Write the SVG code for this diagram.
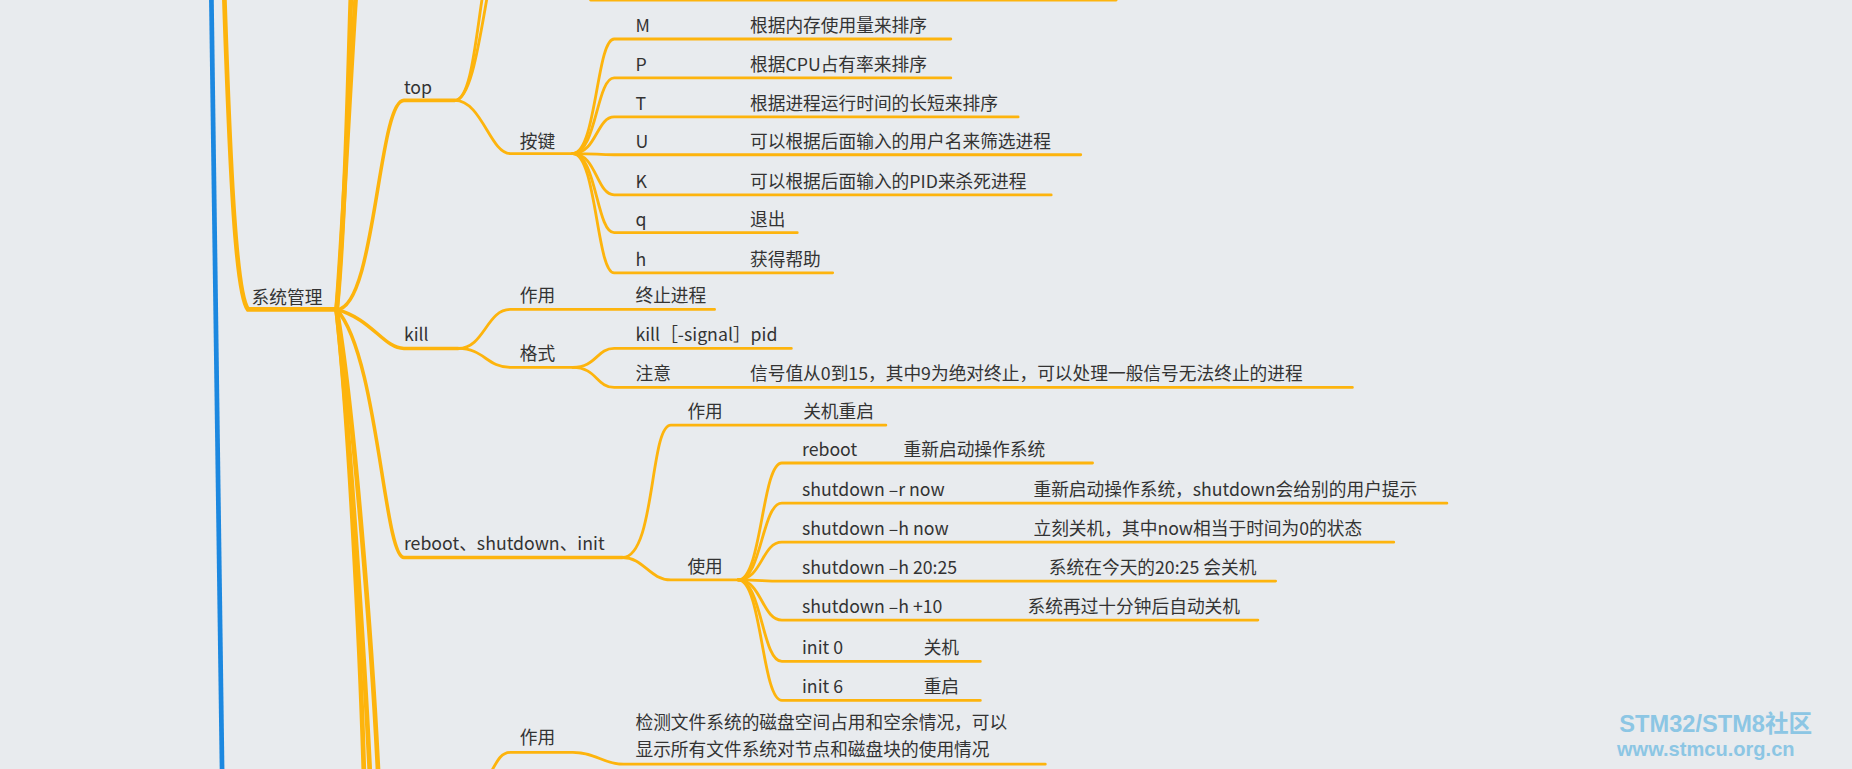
<svg xmlns="http://www.w3.org/2000/svg" width="1852" height="769" viewBox="0 0 1852 769">
<style>
.t{font-family:"Noto Sans CJK SC","Liberation Sans",sans-serif;font-size:15px;fill:#333}
.c{fill:none;stroke:#fdb40d;stroke-linecap:round}
.w1{stroke-width:4}.w2{stroke-width:3}.w3{stroke-width:2.4}
.wm{font-family:"Liberation Sans","Noto Sans CJK SC",sans-serif;font-weight:bold;fill:#8cc6e4}
</style>
<rect width="1852" height="769" fill="#e8ebee"/>
<g transform="scale(1.18112)">
<g id="connectors">
<path d="M179 0 L188 651" fill="none" stroke="#1c88e0" stroke-width="4"/>
<path class="c w1" d="M190 0 C195 150 200 250 210 262 L285 262"/>
<path class="c w1" d="M285 262 C292 200 295 60 297 0"/>
<path class="c w1" d="M285 262 C290 200 297 60 301 0"/>
<path class="c w1" d="M285 262 C295 350 305 550 308 651"/>
<path class="c w1" d="M285 262 C295 350 308 550 313 651"/>
<path class="c w1" d="M285 262 C300 350 315 550 320 651"/>
<path class="c w2" d="M285 262 C318 262 320 85 342 85 L385 85"/>
<path class="c w2" d="M285 262 C315 270 325 295 342 295 L388 295"/>
<path class="c w2" d="M285 262 C320 300 325 472 342 472 L527 472"/>
<path class="c w3" d="M385 85 C398 85 402 40 408 0"/>
<path class="c w3" d="M385 85 C398 85 405 40 412 0"/>
<path class="c w3" d="M500 0 L945 0"/>
<path class="c w3" d="M385 85 C408 85 415 130 432 130 L485 130"/>
<path class="c w3" d="M485 130 C505 130 505 33 520 33 L805 33"/>
<path class="c w3" d="M485 130 C505 130 505 66 520 66 L805 66"/>
<path class="c w3" d="M485 130 C505 130 505 99 520 99 L862 99"/>
<path class="c w3" d="M485 130 C505 130 505 131 520 131 L915 131"/>
<path class="c w3" d="M485 130 C505 130 505 165 520 165 L890 165"/>
<path class="c w3" d="M485 130 C505 130 505 197 520 197 L675 197"/>
<path class="c w3" d="M485 130 C505 130 505 231 520 231 L705 231"/>
<path class="c w3" d="M388 295 C410 295 412 262 432 262 L485 262 L605 262"/>
<path class="c w3" d="M388 295 C410 295 412 311 432 311 L485 311"/>
<path class="c w3" d="M485 311 C505 311 505 295 520 295 L670 295"/>
<path class="c w3" d="M485 311 C505 311 505 328 520 328 L1145 328"/>
<path class="c w3" d="M527 472 C555 472 550 360 568 360 L750 360"/>
<path class="c w3" d="M527 472 C545 472 550 491 568 491 L625 491"/>
<path class="c w3" d="M625 491 C645 491 645 392 662 392 L925 392"/>
<path class="c w3" d="M625 491 C645 491 645 426 662 426 L1225 426"/>
<path class="c w3" d="M625 491 C645 491 645 459 662 459 L1180 459"/>
<path class="c w3" d="M625 491 C645 491 645 492 662 492 L1080 492"/>
<path class="c w3" d="M625 491 C645 491 645 525 662 525 L1065 525"/>
<path class="c w3" d="M625 491 C645 491 645 560 662 560 L830 560"/>
<path class="c w3" d="M625 491 C645 491 645 593 662 593 L830 593"/>
<path class="c w3" d="M415 655 C422 642 425 637 432 637 L485 637 C505 637 510 647 528 647 L885 647"/>
</g>
<g id="n-sys"><text class="t" x="213" y="257">系统管理</text></g>
<g id="n-top"><text class="t" x="342" y="80">top</text></g>
<g id="n-keys"><text class="t" x="440" y="125">按键</text></g>
<g id="n-M"><text class="t" x="538" y="27">M</text><text class="t" x="635" y="27">根据内存使用量来排序</text></g>
<g id="n-P"><text class="t" x="538" y="60">P</text><text class="t" x="635" y="60">根据CPU占有率来排序</text></g>
<g id="n-T"><text class="t" x="538" y="93">T</text><text class="t" x="635" y="93">根据进程运行时间的长短来排序</text></g>
<g id="n-U"><text class="t" x="538" y="125">U</text><text class="t" x="635" y="125">可以根据后面输入的用户名来筛选进程</text></g>
<g id="n-K"><text class="t" x="538" y="159">K</text><text class="t" x="635" y="159">可以根据后面输入的PID来杀死进程</text></g>
<g id="n-q"><text class="t" x="538" y="191">q</text><text class="t" x="635" y="191">退出</text></g>
<g id="n-h"><text class="t" x="538" y="225">h</text><text class="t" x="635" y="225">获得帮助</text></g>
<g id="n-kill"><text class="t" x="342" y="289">kill</text></g>
<g id="n-kill-use"><text class="t" x="440" y="256">作用</text><text class="t" x="538" y="256">终止进程</text></g>
<g id="n-kill-fmt"><text class="t" x="440" y="305">格式</text></g>
<g id="n-kill-syn"><text class="t" x="538" y="289">kill［-signal］pid</text></g>
<g id="n-kill-note"><text class="t" x="538" y="322">注意</text><text class="t" x="635" y="322">信号值从0到15，其中9为绝对终止，可以处理一般信号无法终止的进程</text></g>
<g id="n-reboot"><text class="t" x="342" y="466">reboot、shutdown、init</text></g>
<g id="n-rb-use"><text class="t" x="582" y="354">作用</text><text class="t" x="680" y="354">关机重启</text></g>
<g id="n-rb-usage"><text class="t" x="582" y="485">使用</text></g>
<g id="n-u1"><text class="t" x="679" y="386">reboot</text><text class="t" x="765" y="386">重新启动操作系统</text></g>
<g id="n-u2"><text class="t" x="679" y="420">shutdown –r now</text><text class="t" x="875" y="420">重新启动操作系统，shutdown会给别的用户提示</text></g>
<g id="n-u3"><text class="t" x="679" y="453">shutdown –h now</text><text class="t" x="875" y="453">立刻关机，其中now相当于时间为0的状态</text></g>
<g id="n-u4"><text class="t" x="679" y="486">shutdown –h 20:25</text><text class="t" x="888" y="486">系统在今天的20:25 会关机</text></g>
<g id="n-u5"><text class="t" x="679" y="519">shutdown –h +10</text><text class="t" x="870" y="519">系统再过十分钟后自动关机</text></g>
<g id="n-u6"><text class="t" x="679" y="554">init 0</text><text class="t" x="782" y="554">关机</text></g>
<g id="n-u7"><text class="t" x="679" y="587">init 6</text><text class="t" x="782" y="587">重启</text></g>
<g id="n-df-use"><text class="t" x="440" y="630">作用</text><text class="t" x="538" y="617">检测文件系统的磁盘空间占用和空余情况，可以</text><text class="t" x="538" y="640">显示所有文件系统对节点和磁盘块的使用情况</text></g>
<text class="wm" x="1371" y="620" font-size="20">STM32/STM8社区</text>
<text class="wm" x="1369" y="640" font-size="17">www.stmcu.org.cn</text>
</g>
</svg>
